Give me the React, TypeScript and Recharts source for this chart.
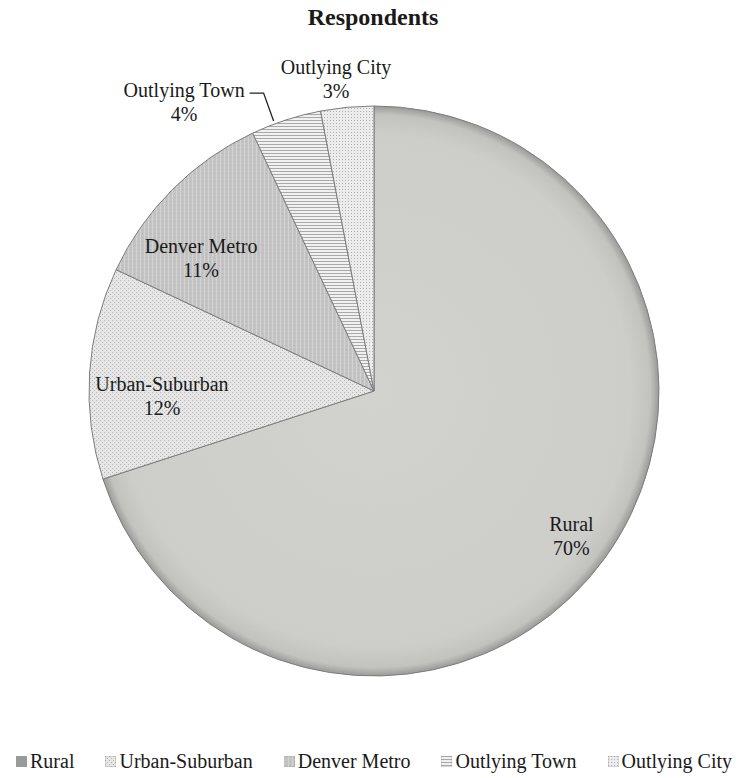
import React from "react";
import { PieChart, Pie, Cell, Legend } from "recharts";

const categories = ["Rural", "Urban-Suburban", "Denver Metro", "Outlying Town", "Outlying City"];
const shares = [70, 12, 11, 4, 3];
const fillIds = ["fillRural", "fillUrban", "fillDenver", "fillTown", "fillCity"];

// label placement: radius factor and angle turn (deg) from slice middle
const labelRadius = [0.856, 0.744, 0.77, 1.22, 1.11];
const labelTurn = [0, 4.4, 7, 15.1, 1.5];

const data = categories.map((name, i) => ({ name, value: shares[i] }));

const RADIAN = Math.PI / 180;
const CX = 374;
const CY = 391;
const R = 285;
const FONT = '"Liberation Serif", "Times New Roman", serif';

const polar = (cx: number, cy: number, r: number, angle: number) => ({
    x: cx + r * Math.cos(-angle * RADIAN),
    y: cy + r * Math.sin(-angle * RADIAN),
});

const renderLabel = (props: any) => {
    const { cx, cy, midAngle, outerRadius, index } = props;
    const p = polar(cx, cy, outerRadius * labelRadius[index], midAngle + labelTurn[index]);
    let leader = null;
    if (index === 3) {
        // leader line for the small outside label
        const a = polar(cx, cy, outerRadius + 3, midAngle + 2.4);
        const b = { x: a.x - 10, y: a.y - 28 };
        const c = { x: b.x - 14, y: b.y };
        leader = (
            <polyline
                points={`${a.x},${a.y} ${b.x},${b.y} ${c.x},${c.y}`}
                fill="none"
                stroke="#222"
                strokeWidth={1.3}
            />
        );
    }
    return (
        <g key={`lbl-${index}`}>
            {leader}
            <text
                x={p.x}
                y={p.y}
                textAnchor="middle"
                fontFamily={FONT}
                fontSize={20}
                fill="#1a1a1a"
            >
                <tspan x={p.x} dy={-3}>{categories[index]}</tspan>
                <tspan x={p.x} dy={24}>{shares[index]}%</tspan>
            </text>
        </g>
    );
};

const Swatch = ({ id }: { id: string }) => (
    <svg width={11} height={11} style={{ marginRight: 3, verticalAlign: "-1px" }}>
        <rect x={0} y={0} width={11} height={11} fill={`url(#${id})`} stroke="#999" strokeWidth={0.6} />
    </svg>
);

const renderLegend = () => (
    <div
        style={{
            display: "flex",
            gap: 31,
            paddingLeft: 16,
            fontFamily: FONT,
            fontSize: 20,
            color: "#1a1a1a",
            whiteSpace: "nowrap",
        }}
    >
        {categories.map((name, i) => (
            <span key={name} style={{ display: "flex", alignItems: "center" }}>
                <Swatch id={fillIds[i]} />
                {name}
            </span>
        ))}
    </div>
);

const App = () => {
    return (
        <div
            style={{
                position: "absolute",
                left: 0,
                top: 0,
                width: 736,
                height: 778,
                background: "#fff",
            }}
        >
            <div
                style={{
                    position: "absolute",
                    top: 3,
                    left: 0,
                    width: 746,
                    textAlign: "center",
                    fontFamily: FONT,
                    fontWeight: "bold",
                    fontSize: 24,
                    lineHeight: "28px",
                    color: "#1a1a1a",
                }}
            >
                Respondents
            </div>
            <PieChart width={736} height={778} margin={{ top: 0, right: 0, bottom: 0, left: 0 }}>
                <defs>
                    <radialGradient id="fillRural" gradientUnits="userSpaceOnUse" cx={CX} cy={CY} r={R}>
                        <stop offset="0%" stopColor="#d2d2cf" />
                        <stop offset="90%" stopColor="#cdcdca" />
                        <stop offset="97%" stopColor="#c2c2bf" />
                        <stop offset="100%" stopColor="#9a9a98" />
                    </radialGradient>
                    <pattern id="fillUrban" patternUnits="userSpaceOnUse" width={4} height={4}>
                        <rect width={4} height={4} fill="#e6e6e6" />
                        <rect x={0} y={0} width={1} height={1} fill="#b4b4b4" />
                        <rect x={2} y={2} width={1} height={1} fill="#b4b4b4" />
                    </pattern>
                    <pattern id="fillDenver" patternUnits="userSpaceOnUse" width={4} height={4}>
                        <rect width={4} height={4} fill="#c4c4c4" />
                        <rect x={0} y={0} width={1} height={4} fill="#d2d2d2" />
                        <rect x={2} y={1} width={1} height={1} fill="#b3b3b3" />
                    </pattern>
                    <pattern id="fillTown" patternUnits="userSpaceOnUse" width={4} height={3}>
                        <rect width={4} height={3} fill="#f0f0f0" />
                        <rect x={0} y={0} width={4} height={1} fill="#a9a9a9" />
                    </pattern>
                    <pattern id="fillCity" patternUnits="userSpaceOnUse" width={3} height={3}>
                        <rect width={3} height={3} fill="#ececec" />
                        <rect x={0} y={0} width={1} height={1} fill="#b0b0b0" />
                    </pattern>
                </defs>
                <Pie
                    data={data}
                    dataKey="value"
                    nameKey="name"
                    cx={CX}
                    cy={CY}
                    outerRadius={R}
                    startAngle={90}
                    endAngle={-270}
                    stroke="#7d7d7d"
                    strokeWidth={1}
                    label={renderLabel}
                    labelLine={false}
                    isAnimationActive={false}
                >
                    {data.map((entry, i) => (
                        <Cell key={`cell-${entry.name}`} fill={`url(#${fillIds[i]})`} />
                    ))}
                </Pie>
                <Legend
                    verticalAlign="bottom"
                    content={renderLegend}
                    wrapperStyle={{ top: 750, left: 0, bottom: "auto", width: 736 }}
                />
            </PieChart>
        </div>
    );
};

export default App;
